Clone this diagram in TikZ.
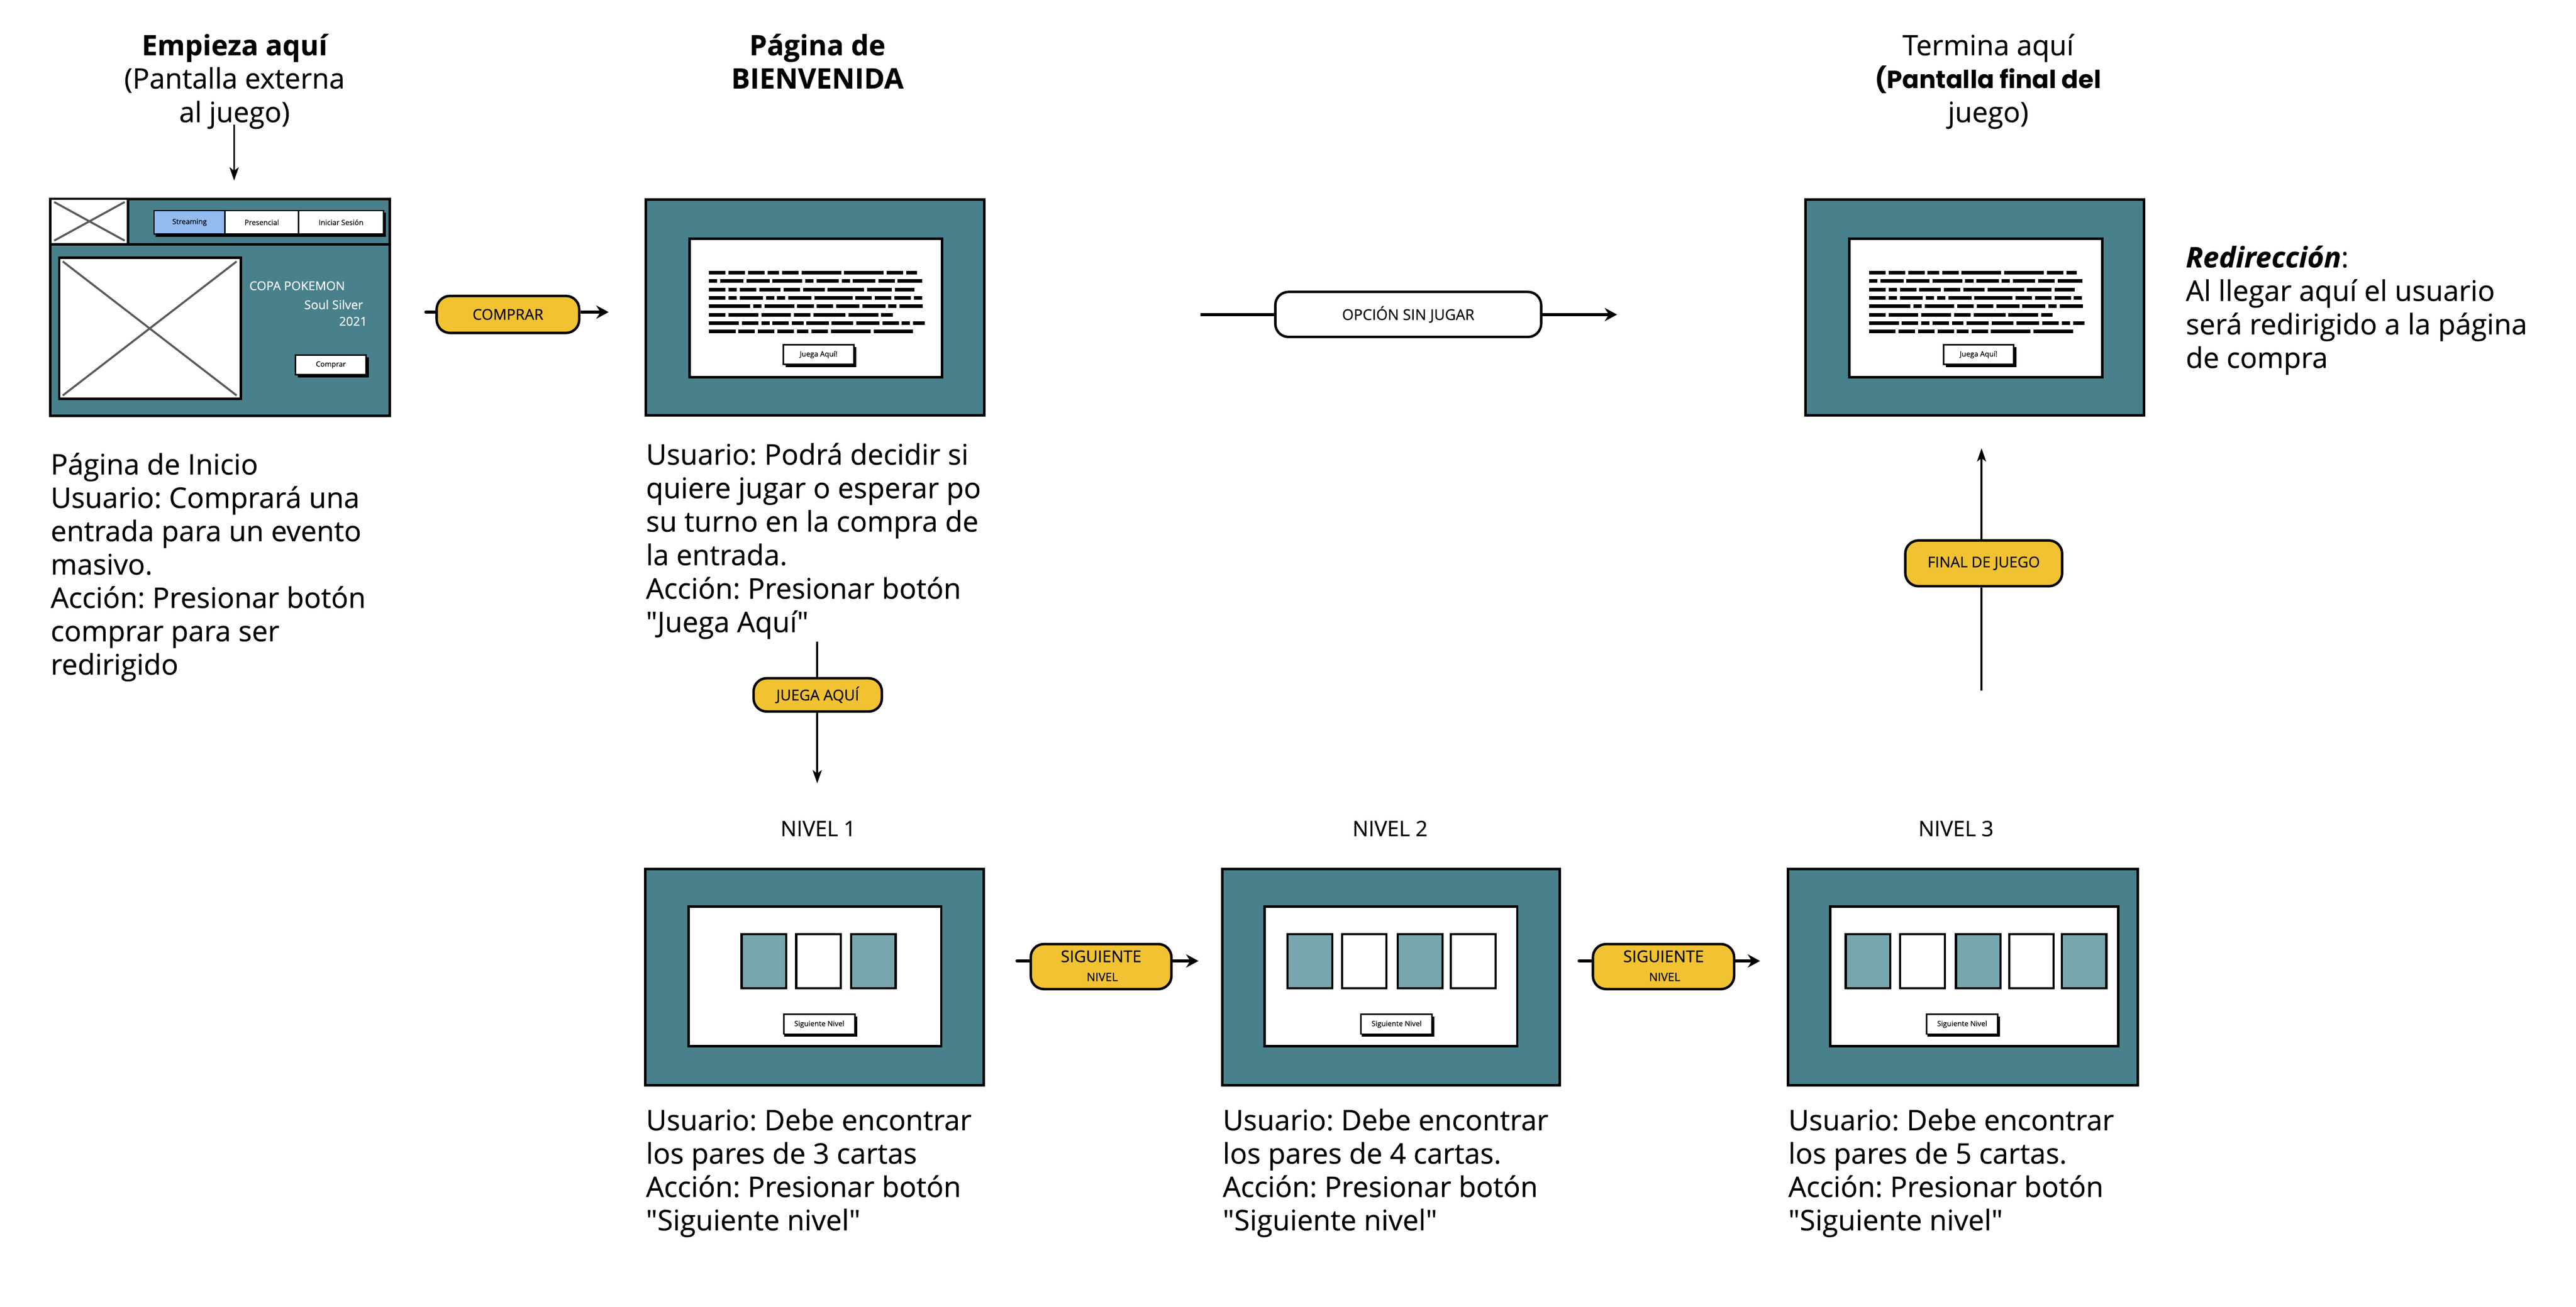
\documentclass[tikz,border=0pt]{standalone}
\usepackage{fontspec}
\setmainfont{Open Sans}[FakeBold=0.3]
\newfontfamily\poppfont{Poppins}
\newfontfamily\pillfont{Open Sans}[FakeBold=0.4]
\usetikzlibrary{arrows.meta,calc}
\definecolor{wteal}{HTML}{48808C}
\definecolor{wblue}{HTML}{93BBF0}
\definecolor{wcard}{HTML}{78A6AF}
\definecolor{wyel}{HTML}{F1C232}
\definecolor{wgray}{HTML}{595959}
\frenchspacing
\tikzset{
  frame/.style={draw=black, line width=1.6, fill=wteal},
  screen/.style={draw=black, line width=1.5, fill=white},
  card/.style={draw=black, line width=1.3},
  xline/.style={draw=wgray, line width=1.2},
  btn/.style={draw=black, line width=0.9, fill=white, inner sep=0, font=\fontsize{4.4}{5}\selectfont},
  navcell/.style={draw=black, line width=0.9, inner sep=0, font=\fontsize{4.4}{5}\selectfont},
  hometxt/.style={inner sep=0, text=white, font=\fontsize{7.4}{8}\selectfont},
  scrib/.style={line width=2.2},
  pill/.style={draw=black, line width=1.5, fill=wyel, rounded corners=8, inner sep=0, font=\pillfont\fontsize{9}{10}\selectfont},
  pilltxt/.style={inner sep=0, font=\pillfont\fontsize{9.8}{10}\selectfont},
  conthick/.style={line width=2.1},
  conthin/.style={line width=1.1},
  tipthick/.style={-{Stealth[length=7.5,width=8,inset=2.5]}},
  tipthin/.style={-{Stealth[length=8,width=5.5,inset=2]}},
  body/.style={inner sep=0, anchor=base west, font=\fontsize{17.2}{20.3}\selectfont},
  ttl/.style={inner sep=0, anchor=base, font=\fontsize{17}{20}\selectfont},
  lvl/.style={inner sep=0, anchor=base, font=\fontsize{12.9}{14}\selectfont},
}
\newcommand\srow[3]{\draw[scrib, dash pattern=#3] (38.4,#1) -- ++(#2,0);}
\newcommand\welcomescr[3]{%
\begin{scope}[shift={(#1,#2)}]
\draw[frame] (0,0) rectangle (205,130.5);
\draw[screen] (26.5,23.5) rectangle (179.5,107.5);
\srow{44.2}{125.8}{on 10pt off 1.8pt on 10pt off 1.8pt on 10pt off 1.8pt on 7pt off 1.8pt on 10pt off 1.8pt on 24pt off 1.8pt on 24pt off 1.8pt on 10pt off 1.8pt on 6.4pt off 30pt}
\srow{49.3}{129.2}{on 5pt off 1.8pt on 14pt off 1.8pt on 14pt off 1.8pt on 18pt off 1.8pt on 5pt off 1.8pt on 13.5pt off 1.8pt on 5pt off 1.8pt on 13.5pt off 1.8pt on 10pt off 1.8pt on 15pt off 30pt}
\srow{54.4}{124.4}{on 10pt off 1.8pt on 5pt off 1.8pt on 10pt off 1.8pt on 13pt off 1.8pt on 10pt off 1.8pt on 13pt off 1.8pt on 22pt off 1.8pt on 15pt off 1.8pt on 12pt off 30pt}
\srow{59.5}{129}{on 10pt off 1.8pt on 5pt off 1.8pt on 14pt off 1.8pt on 5pt off 1.8pt on 5pt off 1.8pt on 14pt off 1.8pt on 23pt off 1.8pt on 10pt off 1.8pt on 10pt off 1.8pt on 10pt off 1.8pt on 5pt off 30pt}
\srow{64.6}{129.4}{on 25pt off 1.8pt on 5pt off 1.8pt on 18pt off 1.8pt on 10pt off 1.8pt on 10pt off 1.8pt on 14pt off 1.8pt on 14pt off 1.8pt on 5pt off 1.8pt on 14pt off 30pt}
\srow{69.7}{111.2}{on 10pt off 1.8pt on 18pt off 1.8pt on 18pt off 1.8pt on 10pt off 1.8pt on 19.4pt off 1.8pt on 18pt off 1.8pt on 7pt off 30pt}
\srow{74.8}{130.5}{on 18pt off 1.8pt on 10pt off 1.8pt on 5pt off 1.8pt on 10pt off 1.8pt on 7pt off 1.8pt on 13.5pt off 1.8pt on 13pt off 1.8pt on 14pt off 1.8pt on 10pt off 1.8pt on 5pt off 1.8pt on 7pt off 30pt}
\srow{79.9}{123.6}{on 16pt off 1.8pt on 10pt off 1.8pt on 10pt off 1.8pt on 10pt off 1.8pt on 7pt off 1.8pt on 10pt off 1.8pt on 24pt off 1.8pt on 24pt off 30pt}
\fill (84.8,89.4) rectangle (127.6,101.3);
\node[btn, minimum width=42.6, minimum height=11.7] (#3btn) at (104.7,93.85) {Juega Aquí!};
\end{scope}}
\newcommand\levelscr[6]{%
\begin{scope}[shift={(#1,526.4)}]
\draw[frame] (0,0) rectangle (#2,131.2);
\draw[screen] (#3,22.9) rectangle (#4,107.4);
\foreach \cx/\cc in {#5} {\draw[card, fill=\cc] (\cx,39.6) rectangle ++(27,32.7);}
\fill (84.3,89.4) rectangle (128.4,101.5);
\node[btn, minimum width=43.1, minimum height=11.9] (#6btn) at (105.45,94.15) {Siguiente Nivel};
\end{scope}}
\begin{document}
\begin{tikzpicture}[x=1pt,y=-1pt]
\path[use as bounding box, fill=white] (0,0) rectangle (1560,791.6);

% ---------- titles ----------
\node[ttl, font=\bfseries\fontsize{17}{20}\selectfont] (t1a) at (142,33.5) {Empieza aquí};
\node[ttl] (t1b) at (142,53.6) {(Pantalla externa};
\node[ttl] (t1c) at (142,74) {al juego)};
\node[ttl, font=\bfseries\fontsize{17}{20}\selectfont] (t2a) at (495,33.5) {Página de};
\node[ttl, font=\bfseries\fontsize{17}{20}\selectfont] (t2b) at (495,53.6) {BIENVENIDA};
\node[ttl] (t3a) at (1204,33.5) {Termina aquí};
\node[ttl, font=\poppfont\bfseries\fontsize{15}{20}\selectfont] (t3b) at (1204,53.6) {(Pantalla final del};
\node[ttl] (t3c) at (1204,74) {juego)};

\coordinate (sa) at (141.8,75.4);
\coordinate (sb) at (141.8,109.4);
\draw[conthin, tipthin] (sa) -- (sb);

% ---------- home window ----------
\draw[frame] (30.5,120.5) rectangle (236,252);
\draw[screen, line width=1.4] (30.5,120.5) rectangle (77.5,148);
\draw[xline] (32.8,122.4) -- (75.5,145.8) (32.8,145.8) -- (75.5,122.4);
\draw[line width=1.4] (30.5,148) -- (236,148);
\fill (94.3,129) rectangle (233.7,143.6);
\node[navcell, fill=wblue, minimum width=43, minimum height=14.2] (nav1) at (114.8,134.7) {Streaming};
\node[navcell, fill=white, minimum width=44.5, minimum height=14.2] (nav2) at (158.55,134.7) {Presencial};
\node[navcell, fill=white, minimum width=51.5, minimum height=14.2] (nav3) at (206.55,134.7) {Iniciar Sesión};
\draw[screen, line width=1.4] (35.8,156.1) rectangle (145.8,241.6);
\draw[xline] (38,158.4) -- (143.3,239.6) (38,239.6) -- (143.3,158.4);
\node[hometxt, anchor=base west] (copa) at (150.8,175.8) {COPA POKEMON};
\node[hometxt, anchor=base east] (soul) at (220,187.3) {Soul Silver};
\node[hometxt, anchor=base east] (year) at (222.5,197.3) {2021};
\fill (180.4,216.4) rectangle (223.3,228.6);
\node[btn, minimum width=42.7, minimum height=12.1] (hbtn) at (200.35,221.05) {Comprar};

% ---------- welcome & final windows ----------
\welcomescr{391}{121}{w}
\welcomescr{1093.5}{121}{f}

% ---------- level windows ----------
\levelscr{390.7}{205}{26.4}{179.3}{58.4/wcard,91.5/white,124.7/wcard}{l1}
\levelscr{740.3}{204.4}{25.5}{178.5}{39.4/wcard,72.4/white,106.2/wcard,138.4/white}{l2}
\levelscr{1082.8}{211.9}{25.5}{199.9}{34.9/wcard,67.9/white,101.7/wcard,133.9/white,165.8/wcard}{l3}

\node[lvl] (n1) at (495.5,506.6) {NIVEL 1};
\node[lvl] (n2) at (841.8,506.6) {NIVEL 2};
\node[lvl] (n3) at (1184.5,506.6) {NIVEL 3};

% ---------- descriptions ----------
\foreach \txt [count=\i from 0] in {Página de Inicio,Usuario: Comprará una,entrada para un evento,masivo.,Acción: Presionar botón,comprar para ser,redirigido}
  {\node[body] (da\i) at (30.5,{287.5+20.2*\i}) {\txt};}
\foreach \txt [count=\i from 0] in {Usuario: Podrá decidir si,quiere jugar o esperar po,su turno en la compra de,la entrada.,Acción: Presionar botón,\textquotedbl Juega Aquí\textquotedbl}
  {\node[body] (db\i) at (391,{281.5+20.3*\i}) {\txt};}
\foreach \txt [count=\i from 0] in {Usuario: Debe encontrar,los pares de 3 cartas,Acción: Presionar botón,\textquotedbl Siguiente nivel\textquotedbl}
  {\node[body] (dc\i) at (391,{684.8+20.2*\i}) {\txt};}
\foreach \txt [count=\i from 0] in {Usuario: Debe encontrar,los pares de 4 cartas.,Acción: Presionar botón,\textquotedbl Siguiente nivel\textquotedbl}
  {\node[body] (dd\i) at (740.3,{684.8+20.2*\i}) {\txt};}
\foreach \txt [count=\i from 0] in {Usuario: Debe encontrar,los pares de 5 cartas.,Acción: Presionar botón,\textquotedbl Siguiente nivel\textquotedbl}
  {\node[body] (de\i) at (1082.8,{684.8+20.2*\i}) {\txt};}
\foreach \txt [count=\i from 0] in {{\bfseries\itshape Redirección}:,Al llegar aquí el usuario,será redirigido a la página,de compra}
  {\node[body] (dr\i) at (1323.5,{162+20.3*\i}) {\txt};}

% ---------- connectors ----------
\node[pill, minimum width=86.3, minimum height=22.4] (pcompra) at (307.6,190.5) {COMPRAR};
\coordinate (ca) at (258,189.1);
\coordinate (cb) at (368.6,189.1);
\draw[conthick, line cap=round] (ca) -- (ca -| pcompra.west);
\draw[conthick, tipthick] (cb -| pcompra.east) -- (cb);

\node[pill, fill=white, minimum width=161, minimum height=27.3, font=\fontsize{9}{10}\selectfont] (popc) at (852.8,190.5) {OPCIÓN SIN JUGAR};
\coordinate (oa) at (727,190.6);
\coordinate (ob) at (979.3,190.6);
\draw[conthick] (oa) -- (oa -| popc.west);
\draw[conthick, tipthick] (ob -| popc.east) -- (ob);

\node[pill, minimum width=77.7, minimum height=20.2] (pjuega) at (495.2,421) {JUEGA AQUÍ};
\coordinate (ja) at (494.9,388.7);
\coordinate (jb) at (494.9,474.6);
\draw[conthin] (ja) -- (ja |- pjuega.north);
\draw[conthin, tipthin] (jb |- pjuega.south) -- (jb);

\node[pill, minimum width=95, minimum height=27.7] (pfinal) at (1201.3,341.3) {FINAL DE JUEGO};
\coordinate (fa) at (1200,418.3);
\coordinate (fb) at (1200,271.6);
\draw[conthin] (fa) -- (fa |- pfinal.south);
\draw[conthin, tipthin] (fb |- pfinal.north) -- (fb);

\node[pill, minimum width=85.2, minimum height=27.3] (ps1) at (666.8,585.6) {};
\node[pilltxt] (ps1a) at (666.8,579.4) {SIGUIENTE};
\node[pilltxt, font=\pillfont\fontsize{7}{8}\selectfont] (ps1b) at (667.5,591.9) {NIVEL};
\coordinate (s1a) at (616,582.2);
\coordinate (s1b) at (725.8,582.2);
\draw[conthick, line cap=round] (s1a) -- (s1a -| ps1.west);
\draw[conthick, tipthick] (s1b -| ps1.east) -- (s1b);

\node[pill, minimum width=85.5, minimum height=27.3] (ps2) at (1007.4,585.6) {};
\node[pilltxt] (ps2a) at (1007.4,579.4) {SIGUIENTE};
\node[pilltxt, font=\pillfont\fontsize{7}{8}\selectfont] (ps2b) at (1008.1,591.9) {NIVEL};
\coordinate (s2a) at (956.4,582.2);
\coordinate (s2b) at (1065.9,582.2);
\draw[conthick, line cap=round] (s2a) -- (s2a -| ps2.west);
\draw[conthick, tipthick] (s2b -| ps2.east) -- (s2b);
\end{tikzpicture}
\end{document}
